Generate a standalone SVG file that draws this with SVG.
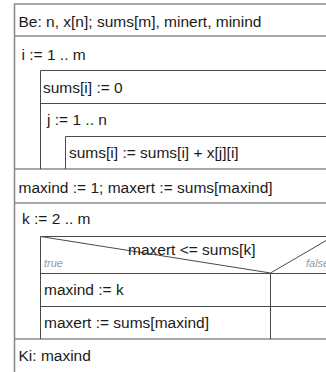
<svg xmlns="http://www.w3.org/2000/svg" width="326" height="372" viewBox="0 0 326 372">
<style>
.o{stroke:#8c8c8c;stroke-width:1.6;fill:none}
.i{stroke:#4a4a4a;stroke-width:1;fill:none}
.t{font-family:"Liberation Sans",Arial,sans-serif;font-size:15.5px;fill:#1a1a1a}
.l{font-family:"Liberation Sans",Arial,sans-serif;font-size:11px;font-style:italic;fill:#9a9a9a}
</style>
<rect width="326" height="372" fill="#ffffff"/>
<g id="connectors">
<path class="o" d="M14.5,372 V4 H340"/>
<path class="o" d="M14.5,36 H340 M14.5,169 H340 M14.5,203 H340 M14.5,339 H340"/>
<path class="i" d="M40.5,169 V70.5 H340 M40.5,103.5 H340"/>
<path class="i" d="M65.5,169 V136.5 H340"/>
<path class="i" d="M40.5,339 V236.5 H340 M40.5,273.5 H340 M270.5,273 V339 M40.5,306.5 H340"/>
<path class="i" d="M40.5,236.5 L270.5,273 L333,236.5"/>
</g>
<g id="n-input"><text class="t" x="18.5" y="27">Be: n, x[n]; sums[m], minert, minind</text></g>
<g id="n-loop-i"><text class="t" x="21.5" y="60">i := 1 .. m</text></g>
<g id="n-init"><text class="t" x="43" y="92.5">sums[i] := 0</text></g>
<g id="n-loop-j"><text class="t" x="47" y="124.5">j := 1 .. n</text></g>
<g id="n-sum"><text class="t" x="69" y="157.5">sums[i] := sums[i] + x[j][i]</text></g>
<g id="n-max-init"><text class="t" x="18.5" y="192.5">maxind := 1; maxert := sums[maxind]</text></g>
<g id="n-loop-k"><text class="t" x="22" y="224">k := 2 .. m</text></g>
<g id="n-cond">
<text class="t" x="128" y="255">maxert &lt;= sums[k]</text>
<text class="l" x="44" y="267">true</text>
<text class="l" x="306" y="267">false</text>
</g>
<g id="n-set-ind"><text class="t" x="44" y="294.5">maxind := k</text></g>
<g id="n-set-ert"><text class="t" x="44" y="327.5">maxert := sums[maxind]</text></g>
<g id="n-output"><text class="t" x="18.5" y="361">Ki: maxind</text></g>
</svg>
